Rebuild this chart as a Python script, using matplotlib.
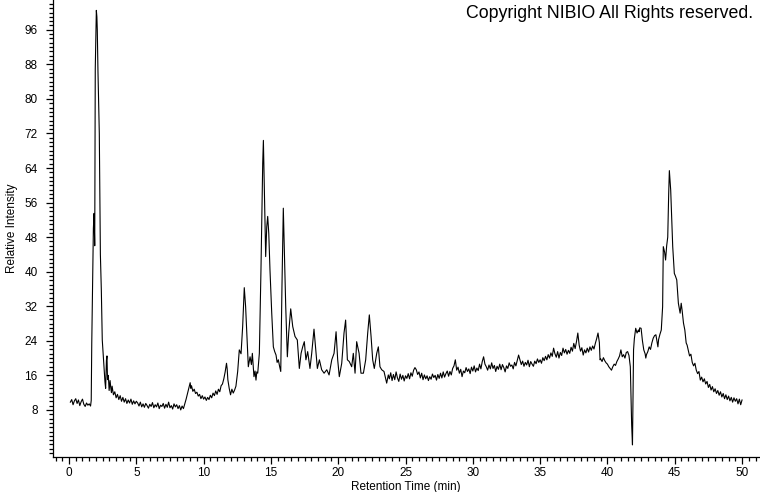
import matplotlib
matplotlib.use("Agg")
import matplotlib.pyplot as plt
from matplotlib.ticker import MultipleLocator, FixedLocator
import numpy as np

# ---- data (retention time in min, relative intensity) ----
t_a = [0.1, 0.2, 0.3, 0.4, 0.5, 0.6, 0.7, 0.8, 0.9, 1.0, 1.1, 1.2, 1.3, 1.4, 1.5, 1.6,
       1.65, 1.69, 1.76, 1.81, 1.86, 1.91, 1.95, 2.03, 2.07, 2.10, 2.15, 2.25, 2.33, 2.40,
       2.47, 2.55, 2.62, 2.67, 2.72, 2.78, 2.82, 2.86, 2.92, 2.98, 3.05, 3.1, 3.15, 3.2,
       3.3, 3.4, 3.5, 3.6, 3.7, 3.8, 3.9, 4.0, 4.1, 4.2, 4.3, 4.4, 4.5, 4.6, 4.7, 4.8, 4.9, 5.0]
i_a = [9.8, 10.4, 9.2, 10.1, 10.6, 9.5, 10.3, 9.0, 9.9, 10.5, 9.3, 8.8, 9.6, 9.1, 9.4, 8.9,
       10.2, 23.5, 40.0, 50.0, 53.5, 46.0, 87.0, 100.5, 99.0, 96.0, 86.5, 72.0, 44.0, 35.8,
       24.2, 20.3, 17.0, 14.5, 13.0, 19.5, 20.5, 15.0, 16.0, 12.5, 14.8, 13.2, 12.0, 13.5,
       11.5, 12.2, 10.8, 11.6, 10.4, 11.3, 10.0, 10.9, 9.8, 10.6, 9.5, 10.3, 9.6, 10.5, 9.3, 10.1, 9.4, 10.0]

t_b = [5.1, 5.2, 5.3, 5.4, 5.5, 5.6, 5.7, 5.8, 5.9, 6.0, 6.1, 6.2, 6.3, 6.4, 6.5, 6.6, 6.7,
       6.8, 6.9, 7.0, 7.1, 7.2, 7.3, 7.4, 7.5, 7.6, 7.7, 7.8, 7.9, 8.0, 8.1, 8.2, 8.3, 8.4,
       8.5, 8.6, 8.7, 8.8, 8.9, 9.0, 9.05, 9.1, 9.2, 9.3, 9.4, 9.5, 9.6, 9.7, 9.8, 9.9, 10.0,
       10.1, 10.2, 10.3, 10.4, 10.5, 10.6, 10.7, 10.8, 10.9, 11.0, 11.1, 11.2, 11.3, 11.4,
       11.5, 11.6, 11.7, 11.75, 11.8, 11.9, 12.0, 12.1, 12.2, 12.3, 12.4]
i_b = [9.6, 8.9, 9.8, 8.7, 9.4, 8.6, 9.5, 9.0, 8.4, 9.3, 8.8, 9.7, 8.5, 9.2, 8.7, 9.6, 8.3,
       9.1, 8.8, 9.5, 8.4, 9.3, 8.6, 9.8, 8.5, 9.0, 8.2, 9.4, 8.7, 9.2, 8.3, 9.0, 8.0, 8.9,
       8.3, 9.4, 10.5, 11.8, 13.2, 14.3, 13.0, 13.6, 12.3, 12.8, 11.8, 12.1, 11.2, 11.6, 10.6, 11.3, 10.5,
       11.0, 10.2, 10.9, 10.4, 11.4, 10.8, 11.9, 11.3, 12.4, 11.6, 12.8, 12.2, 13.6, 14.0,
       15.2, 16.8, 18.8, 17.5, 15.0, 13.0, 11.5, 12.8, 11.9, 12.6, 13.5]

t_c = [12.53, 12.65, 12.78, 12.9, 13.02, 13.12, 13.22, 13.32, 13.45, 13.55, 13.62, 13.74,
       13.82, 13.89, 13.95, 14.02, 14.14, 14.26, 14.39, 14.44, 14.51, 14.61, 14.69, 14.76,
       14.84, 14.93, 15.06, 15.18, 15.28, 15.38, 15.46, 15.55, 15.65, 15.73, 15.82, 15.92,
       16.0, 16.1, 16.22, 16.32, 16.47, 16.62, 16.79, 16.96, 17.11, 17.24, 17.36, 17.48,
       17.6, 17.73, 17.9, 18.03, 18.2, 18.33, 18.45, 18.6, 18.77, 18.95, 19.15, 19.32, 19.52,
       19.69, 19.84, 19.96, 20.08, 20.26, 20.43, 20.55, 20.68, 20.82, 21.0, 21.12, 21.25,
       21.37, 21.55, 21.69, 21.87, 22.04, 22.19, 22.31, 22.44, 22.56, 22.68, 22.86, 22.98,
       23.1, 23.23, 23.4, 23.6, 23.72]
i_c = [16.9, 21.9, 21.0, 27.3, 36.3, 31.9, 25.0, 18.0, 20.3, 18.5, 21.1, 15.7,
       17.0, 14.9, 16.8, 16.5, 21.1, 40.4, 65.1, 70.4, 59.7, 43.5, 50.4, 52.8,
       48.9, 40.4, 30.4, 22.6, 21.5, 20.7, 19.0, 19.6, 18.0, 16.9, 36.5, 54.7,
       44.3, 31.9, 20.3, 25.8, 31.4, 27.3, 25.0, 24.2, 17.6, 21.1, 22.6, 23.8,
       19.6, 21.5, 17.6, 21.1, 26.7, 21.9, 17.6, 19.6, 17.3, 16.5, 17.3, 16.1, 19.6,
       21.1, 26.1, 19.6, 15.7, 18.8, 25.8, 28.8, 19.6, 19.2, 18.0, 21.1, 16.5,
       23.8, 21.1, 16.5, 16.5, 19.6, 25.8, 30.0, 25.0, 19.6, 17.6, 21.1, 22.6,
       18.0, 17.3, 16.9, 14.2, 16.1]

t_d = [23.8, 23.9, 24.0, 24.1, 24.2, 24.3, 24.4, 24.5, 24.6, 24.7, 24.8, 24.9, 25.0, 25.1,
       25.2, 25.3, 25.4, 25.5, 25.6, 25.7, 25.8, 25.9, 26.0, 26.1, 26.2, 26.3, 26.4, 26.5,
       26.6, 26.7, 26.8, 26.9, 27.0, 27.1, 27.2, 27.3, 27.4, 27.5, 27.6, 27.7, 27.8, 27.9,
       28.0, 28.1, 28.2, 28.3, 28.4, 28.5, 28.6, 28.7, 28.8, 28.9, 29.0, 29.1, 29.2, 29.3,
       29.4, 29.5, 29.6, 29.7, 29.8, 29.9, 30.0, 30.1, 30.2, 30.3, 30.4, 30.5, 30.6, 30.7,
       30.8, 30.9, 31.0, 31.1, 31.2, 31.3, 31.4, 31.5, 31.6, 31.7, 31.8, 31.9, 32.0]
i_d = [15.2, 16.6, 14.8, 16.2, 15.0, 16.8, 15.4, 14.6, 16.3, 15.1, 16.0, 14.7, 15.9, 15.3,
       16.4, 15.2, 16.6, 15.8, 17.2, 17.8, 17.3, 16.2, 16.8, 15.4, 16.5, 15.0, 16.1, 15.2,
       15.9, 14.8, 15.7, 15.1, 16.3, 15.5, 16.0, 14.9, 16.2, 15.3, 16.5, 15.4, 16.8, 15.6,
       16.4, 17.0, 15.8, 16.9, 16.1, 17.6, 18.2, 19.6, 17.2, 17.9, 16.5, 17.4, 15.7, 17.0,
       16.6, 17.8, 16.9, 17.5, 16.4, 17.9, 17.0, 18.2, 16.8, 17.7, 17.1, 18.6, 17.5, 19.2,
       20.3, 18.6, 18.0, 17.2, 18.4, 17.5, 18.9, 17.6, 18.3, 16.9, 18.1, 17.4, 18.6]

t_e = [32.1, 32.2, 32.3, 32.4, 32.5, 32.6, 32.7, 32.8, 32.9, 33.0, 33.1, 33.2, 33.3, 33.4,
       33.5, 33.6, 33.7, 33.8, 33.9, 34.0, 34.1, 34.2, 34.3, 34.4, 34.5, 34.6, 34.7, 34.8,
       34.9, 35.0, 35.1, 35.2, 35.3, 35.4, 35.5, 35.6, 35.7, 35.8, 35.9, 36.0, 36.1, 36.2,
       36.3, 36.4, 36.5, 36.6, 36.7, 36.8, 36.9, 37.0, 37.1, 37.2, 37.3, 37.4, 37.5, 37.6,
       37.7, 37.8, 37.9, 38.0, 38.1, 38.2, 38.3, 38.4, 38.5, 38.6, 38.7, 38.8, 38.9, 39.0,
       39.1, 39.2, 39.3, 39.4, 39.45, 39.5, 39.6, 39.7, 39.8, 39.9, 40.0, 40.1, 40.2, 40.3,
       40.4, 40.5, 40.6, 40.7, 40.8, 40.9, 41.0, 41.1, 41.2, 41.3, 41.4, 41.5, 41.6, 41.7]
i_e = [17.3, 18.5, 17.8, 16.8, 18.2, 17.6, 18.9, 18.1, 18.4, 17.5, 19.0, 18.2, 19.4, 20.7,
       19.6, 18.5, 19.3, 18.1, 19.0, 18.4, 19.5, 18.0, 19.2, 18.6, 18.1, 19.3, 18.7, 19.8,
       19.0, 19.6, 18.8, 20.1, 19.4, 20.4, 19.6, 20.8, 20.0, 21.2, 20.4, 22.3, 21.0, 20.2,
       21.5, 20.0, 21.3, 20.6, 22.3, 21.2, 22.0, 20.9, 21.8, 21.1, 22.5, 21.6, 23.4, 22.2,
       23.8, 25.8, 23.0, 21.6, 22.4, 20.7, 21.9, 21.2, 22.3, 21.4, 22.6, 21.8, 22.8, 22.1,
       23.4, 24.5, 25.8, 23.6, 19.6, 19.8, 19.2, 20.1, 19.4, 18.9, 18.6, 18.0, 17.6, 17.2,
       18.0, 18.6, 18.3, 19.2, 19.8, 20.5, 21.9, 20.3, 20.8, 20.0, 21.3, 21.5, 20.6, 18.0]

t_f = [41.8, 41.86, 41.94, 42.0, 42.1, 42.2, 42.3, 42.35, 42.4, 42.5, 42.6, 42.7, 42.8,
       42.85, 42.9, 43.0, 43.1, 43.2, 43.3, 43.4, 43.5, 43.6, 43.7, 43.75, 43.8, 43.9, 44.0,
       44.1, 44.15, 44.25, 44.32, 44.4, 44.48, 44.55, 44.6, 44.65, 44.7, 44.78, 44.85, 44.97,
       45.05, 45.15, 45.27, 45.4, 45.48, 45.55, 45.65, 45.75, 45.85, 45.92]
i_f = [4.5, -0.1, 21.9, 24.5, 26.9, 25.8, 26.5, 26.1, 27.0, 26.9, 24.0, 21.9, 21.0,
       20.0, 20.8, 21.5, 22.6, 22.0, 23.5, 24.6, 25.2, 25.4, 23.6, 22.6, 24.3, 25.5, 26.5,
       31.9, 45.8, 44.5, 42.7, 46.0, 48.0, 58.0, 63.4, 61.0, 58.9, 52.0, 45.8, 39.6,
       39.0, 38.1, 32.7, 30.4, 32.7, 31.0, 28.1, 26.5, 23.5, 23.0]

t_g = [46.0, 46.1, 46.2, 46.3, 46.4, 46.5, 46.6, 46.7, 46.8, 46.9, 47.0, 47.1, 47.2, 47.3,
       47.4, 47.5, 47.6, 47.7, 47.8, 47.9, 48.0, 48.1, 48.2, 48.3, 48.4, 48.5, 48.6, 48.7,
       48.8, 48.9, 49.0, 49.1, 49.2, 49.3, 49.4, 49.5, 49.6, 49.7, 49.8, 49.9, 50.0]
i_g = [21.9, 20.5, 20.9, 19.0, 18.2, 18.8, 17.2, 16.4, 16.9, 14.9, 15.6, 14.5, 15.2, 14.0,
       14.6, 13.2, 13.9, 12.6, 13.4, 12.2, 12.9, 11.8, 12.5, 11.4, 12.2, 11.0, 11.8, 10.6,
       11.5, 10.4, 11.2, 10.1, 10.9, 9.8, 10.8, 10.0, 10.6, 9.4, 10.5, 9.2, 10.3]

x_major_ticks = [0, 5, 10, 15, 20, 25, 30, 35, 40, 45, 50]
y_major_ticks = [8, 16, 24, 32, 40, 48, 56, 64, 72, 80, 88, 96]

retention_time = t_a + t_b + t_c + t_d + t_e + t_f + t_g
rel_intensity = i_a + i_b + i_c + i_d + i_e + i_f + i_g

# ---- figure ----
plt.rcParams['font.family'] = ['Liberation Sans', 'DejaVu Sans']
W, H = 760, 492
fig = plt.figure(figsize=(W / 100, H / 100), dpi=100)
left, right, bottom, top = 53, 759, 457, 0
ax = fig.add_axes([left / W, 1 - bottom / H, (right - left) / W, (bottom - top) / H])

ax.plot(retention_time, rel_intensity, color='black', lw=0.8)

ax.set_xlim(-1.19, 51.26)
ax.set_ylim(-2.9, 102.9)

for s in ('top', 'right'):
    ax.spines[s].set_visible(False)
for s in ('left', 'bottom'):
    ax.spines[s].set_linewidth(0.9)

ax.xaxis.set_major_locator(FixedLocator(x_major_ticks))
ax.xaxis.set_minor_locator(MultipleLocator(0.5))
ax.yaxis.set_major_locator(FixedLocator(y_major_ticks))
ax.yaxis.set_minor_locator(MultipleLocator(1))

ax.tick_params(axis='both', which='major', direction='out', length=5, width=0.9,
               labelsize=8.5, color='black')
ax.tick_params(axis='both', which='minor', direction='out', length=3.2, width=0.9, color='black')
ax.tick_params(axis='x', which='major', pad=2.5)
ax.tick_params(axis='y', which='major', pad=6)

ax.set_xlabel('Retention Time (min)', fontsize=8.5, labelpad=1)
ax.set_ylabel('Relative Intensity', fontsize=8.5, labelpad=5)

fig.text(753 / W, 1 - 14 / H, 'Copyright NIBIO All Rights reserved.', ha='right', va='center',
         fontsize=12.8, color='black')

fig.savefig('out.png', dpi=100, facecolor='white')
